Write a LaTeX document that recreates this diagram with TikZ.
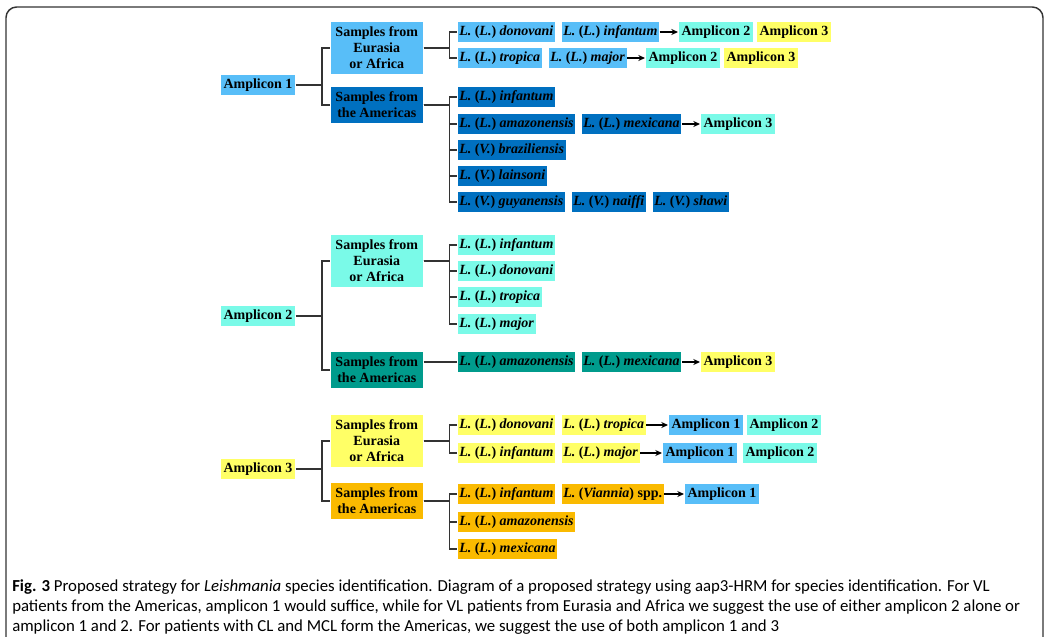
\documentclass[tikz,border=0pt]{standalone}
\usepackage{fontspec}
\setmainfont{Liberation Serif}
\newfontfamily\capfont{Carlito}
\usetikzlibrary{arrows.meta, calc}
\definecolor{ampone}{RGB}{88, 190, 248}
\definecolor{amptwo}{RGB}{122, 250, 232}
\definecolor{ampthree}{RGB}{255, 255, 102}
\definecolor{amerone}{RGB}{0, 112, 192}
\definecolor{amertwo}{RGB}{0, 155, 140}
\definecolor{amerthree}{RGB}{250, 186, 0}
\definecolor{lnc}{RGB}{51, 51, 51}
\newcommand{\LL}[1]{\textit{L.}~(\textit{L.})~\textit{#1}}
\newcommand{\LV}[1]{\textit{L.}~(\textit{V.})~\textit{#1}}

\begin{document}
\begin{tikzpicture}[x=0.75pt, y=-0.75pt,
    box/.style   = {inner xsep=1.5pt, inner ysep=0pt, minimum height=15.75pt, draw=white, line width=0.4pt, text=black},
    amp/.style   = {box, font=\fontsize{10.5}{12}\selectfont\bfseries, minimum width=56.5pt},
    smp/.style   = {box, font=\fontsize{10.5}{12}\selectfont\bfseries, align=center, minimum width=69.75pt, inner ysep=2pt},
    spc/.style   = {box, font=\fontsize{10.5}{12}\selectfont\bfseries},
    ln/.style    = {color=lnc, line width=1.1pt},
    arr/.style   = {color=black, line width=0.9pt, -{Stealth[length=5pt, width=4.5pt]}},
    captxt/.style = {font=\capfont\fontsize{12.6}{15}\selectfont, align=left, inner sep=0pt},
  ]
    \useasboundingbox (0,0) rectangle (1045,636);

    % frame
    \draw[color=lnc, line width=1.1pt, rounded corners=8] (6,650) -- (6,7) -- (1043,7) -- (1043,650);

    % --- nodes ---
    % Amplicon 1
    \node[amp, fill=ampone, anchor=west] (a1) at (220, 85) {Amplicon 1};
    \node[smp, fill=ampone, anchor=west, minimum height=39.75pt] (g1e) at (330, 48) {Samples from\\Eurasia\\or Africa};
    \node[smp, fill=amerone, anchor=west, minimum height=27.75pt] (g1a) at (330, 105) {Samples from\\the Americas};

    \node[spc, fill=ampone, anchor=west] (r11a) at (457, 32) {\LL{donovani}};
    \node[spc, fill=ampone, anchor=west] (r11b) at (561, 32) {\LL{infantum}};
    \node[amp, fill=amptwo, anchor=west] (r11c) at (678, 32) {Amplicon 2};
    \node[amp, fill=ampthree, anchor=west] (r11d) at (756, 32) {Amplicon 3};

    \node[spc, fill=ampone, anchor=west] (r12a) at (457, 58) {\LL{tropica}};
    \node[spc, fill=ampone, anchor=west] (r12b) at (548, 58) {\LL{major}};
    \node[amp, fill=amptwo, anchor=west] (r12c) at (645, 58) {Amplicon 2};
    \node[amp, fill=ampthree, anchor=west] (r12d) at (723, 58) {Amplicon 3};

    \node[spc, fill=amerone, anchor=west] (r13a) at (457, 97) {\LL{infantum}};
    \node[spc, fill=amerone, anchor=west] (r14a) at (457, 124) {\LL{amazonensis}};
    \node[spc, fill=amerone, anchor=west] (r14b) at (581, 124) {\LL{mexicana}};
    \node[amp, fill=amptwo, anchor=west] (r14c) at (700, 124) {Amplicon 3};
    \node[spc, fill=amerone, anchor=west] (r15a) at (457, 150) {\LV{braziliensis}};
    \node[spc, fill=amerone, anchor=west] (r16a) at (457, 176) {\LV{lainsoni}};
    \node[spc, fill=amerone, anchor=west] (r17a) at (457, 202) {\LV{guyanensis}};
    \node[spc, fill=amerone, anchor=west] (r17b) at (571, 202) {\LV{naiffi}};
    \node[spc, fill=amerone, anchor=west] (r17c) at (652, 202) {\LV{shawi}};

    % Amplicon 2
    \node[amp, fill=amptwo, anchor=west] (a2) at (220, 316) {Amplicon 2};
    \node[smp, fill=amptwo, anchor=west, minimum height=39.75pt] (g2e) at (330, 261) {Samples from\\Eurasia\\or Africa};
    \node[smp, fill=amertwo, anchor=west, minimum height=27.75pt] (g2a) at (330, 370) {Samples from\\the Americas};

    \node[spc, fill=amptwo, anchor=west] (r21a) at (457, 245) {\LL{infantum}};
    \node[spc, fill=amptwo, anchor=west] (r22a) at (457, 271) {\LL{donovani}};
    \node[spc, fill=amptwo, anchor=west] (r23a) at (457, 297) {\LL{tropica}};
    \node[spc, fill=amptwo, anchor=west] (r24a) at (457, 324) {\LL{major}};
    \node[spc, fill=amertwo, anchor=west] (r25a) at (457, 362) {\LL{amazonensis}};
    \node[spc, fill=amertwo, anchor=west] (r25b) at (581, 362) {\LL{mexicana}};
    \node[amp, fill=ampthree, anchor=west] (r25c) at (700, 362) {Amplicon 3};

    % Amplicon 3
    \node[amp, fill=ampthree, anchor=west] (a3) at (220, 469) {Amplicon 3};
    \node[smp, fill=ampthree, anchor=west, minimum height=39.75pt] (g3e) at (330, 441) {Samples from\\Eurasia\\or Africa};
    \node[smp, fill=amerthree, anchor=west, minimum height=27.75pt] (g3a) at (330, 501) {Samples from\\the Americas};

    \node[spc, fill=ampthree, anchor=west] (r31a) at (457, 425) {\LL{donovani}};
    \node[spc, fill=ampthree, anchor=west] (r31b) at (561, 425) {\LL{tropica}};
    \node[amp, fill=ampone, anchor=west] (r31c) at (668, 425) {Amplicon 1};
    \node[amp, fill=amptwo, anchor=west] (r31d) at (746, 425) {Amplicon 2};

    \node[spc, fill=ampthree, anchor=west] (r32a) at (457, 453) {\LL{infantum}};
    \node[spc, fill=ampthree, anchor=west] (r32b) at (561, 453) {\LL{major}};
    \node[amp, fill=ampone, anchor=west] (r32c) at (662, 453) {Amplicon 1};
    \node[amp, fill=amptwo, anchor=west] (r32d) at (742, 453) {Amplicon 2};

    \node[spc, fill=amerthree, anchor=west] (r33a) at (457, 494) {\LL{infantum}};
    \node[spc, fill=amerthree, anchor=west] (r33b) at (561, 494) {\textit{L.}~(\textit{Viannia})~spp.};
    \node[amp, fill=ampone, anchor=west] (r33c) at (684, 494) {Amplicon 1};
    \node[spc, fill=amerthree, anchor=west] (r34a) at (457, 522) {\LL{amazonensis}};
    \node[spc, fill=amerthree, anchor=west] (r35a) at (457, 549) {\LL{mexicana}};

    % --- connectors ---
    \draw[ln] (a1.east) -- ++(26,0) |- (g1e.west);
    \draw[ln] (a1.east) -- ++(26,0) |- (g1a.west);
    \foreach \r in {r11a, r12a}
      \draw[ln] (g1e.east) -- ++(26,0) |- (\r.west);
    \foreach \r in {r13a, r14a, r15a, r16a, r17a}
      \draw[ln] (g1a.east) -- ++(26,0) |- (\r.west);

    \draw[ln] (a2.east) -- ++(26,0) |- (g2e.west);
    \draw[ln] (a2.east) -- ++(26,0) |- (g2a.west);
    \foreach \r in {r21a, r22a, r23a, r24a}
      \draw[ln] (g2e.east) -- ++(26,0) |- (\r.west);
    \draw[ln] (g2a.east |- r25a) -- (r25a.west);

    \draw[ln] (a3.east) -- ++(26,0) |- (g3e.west);
    \draw[ln] (a3.east) -- ++(26,0) |- (g3a.west);
    \foreach \r in {r31a, r32a}
      \draw[ln] (g3e.east) -- ++(26,0) |- (\r.west);
    \foreach \r in {r33a, r34a, r35a}
      \draw[ln] (g3a.east) -- ++(26,0) |- (\r.west);

    % arrows
    \draw[arr] (r11b) -- (r11c);
    \draw[arr] (r12b) -- (r12c);
    \draw[arr] (r14b) -- (r14c);
    \draw[arr] (r25b) -- (r25c);
    \draw[arr] (r31b) -- (r31c);
    \draw[arr] (r32b) -- (r32c);
    \draw[arr] (r33b) -- (r33c);

    % caption
    \node[captxt, anchor=north west] (caption) at (12, 579)
      {\textbf{Fig. 3} Proposed strategy for \textit{Leishmania} species identification. Diagram of a proposed strategy using aap3-HRM for species identification. For VL\\
       patients from the Americas, amplicon 1 would suffice, while for VL patients from Eurasia and Africa we suggest the use of either amplicon 2 alone or\\
       amplicon 1 and 2. For patients with CL and MCL form the Americas, we suggest the use of both amplicon 1 and 3};

  \end{tikzpicture}
\end{document}
